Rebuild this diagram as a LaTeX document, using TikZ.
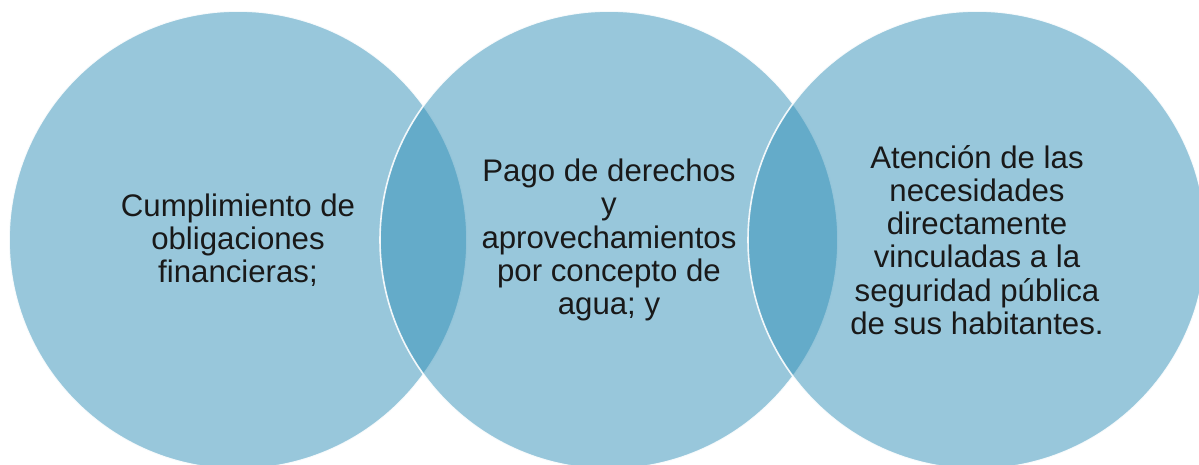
\documentclass[tikz,border=0pt]{standalone}
\usepackage{fontspec}
\setmainfont{Liberation Sans}
\usepackage{tikz}
\definecolor{ringblue}{RGB}{49,143,183}
\definecolor{textgray}{RGB}{25,25,25}

\begin{document}
\begin{tikzpicture}[x=0.5pt, y=-0.5pt]
            \tikzset{ring/.style = {circle, minimum size=229pt, inner sep=0pt,
                fill=ringblue, fill opacity=0.5, draw=white, draw opacity=0.9,
                line width=0.8pt, text opacity=1, text=textgray, align=center,
                font=\fontsize{15.6pt}{16.6pt}\selectfont}}
            \useasboundingbox (0, 0) rectangle (1199, 465);
            \node[ring] (deuda) at (238, 240) {Cumplimiento de\\obligaciones\\financieras;};
            \node[ring] (agua) at (609, 240) {Pago de derechos\\y\\aprovechamientos\\por concepto de\\agua; y};
            \node[ring] (seguridad) at (977, 240) {Atención de las\\necesidades\\directamente\\vinculadas a la\\seguridad pública\\de sus habitantes.};
        \end{tikzpicture}
\end{document}
